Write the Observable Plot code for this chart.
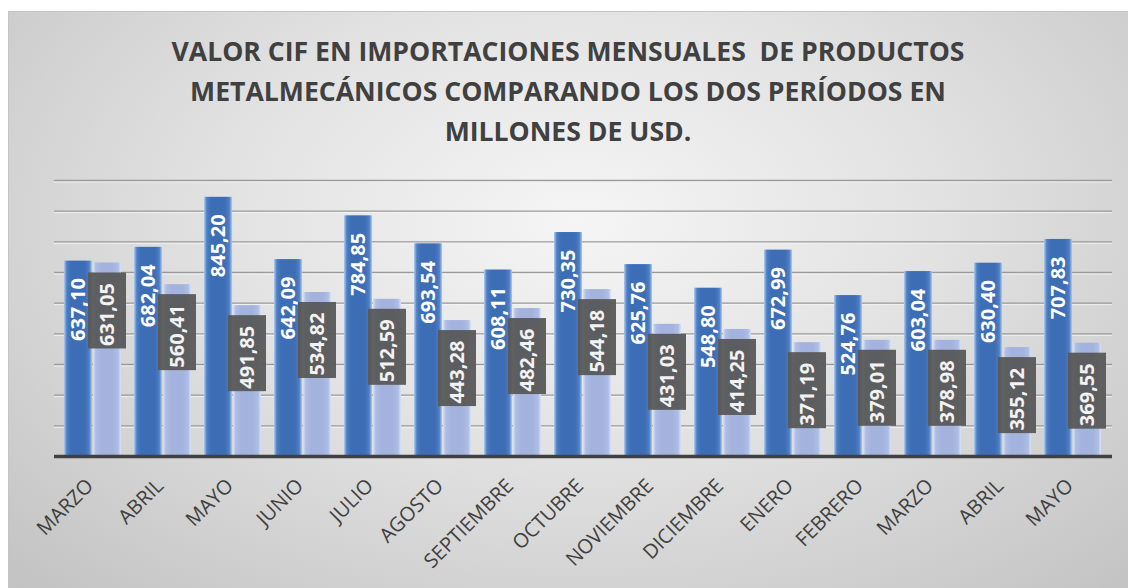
<!DOCTYPE html>
<html>
<head>
<meta charset="utf-8">
<script src="https://cdn.jsdelivr.net/npm/d3@7"></script>
<script src="https://cdn.jsdelivr.net/npm/@observablehq/plot@0.6"></script>
<style>
  html, body { margin: 0; padding: 0; width: 1128px; height: 588px; overflow: hidden; background: #ffffff; }
  #frame { position: absolute; left: 8px; top: 11px; width: 1140px; height: 600px;
    border: 1px solid #c4c4c4; box-sizing: border-box;
    background: radial-gradient(ellipse 70% 85% at 50% 35%, #f5f5f5 0%, #e2e2e2 45%, #c3c3c3 100%); }
  #title { position: absolute; left: 8px; width: 1120px; top: 31px; text-align: center;
    font-family: "Open Sans", sans-serif; font-weight: 700; font-size: 26.6px; line-height: 40px; color: #404040; white-space: pre; }
  #chart { position: absolute; left: 0; top: 150px; }
</style>
</head>
<body>
<div id="frame"></div>
<div id="title">VALOR CIF EN IMPORTACIONES MENSUALES  DE PRODUCTOS<br>METALMECÁNICOS COMPARANDO LOS DOS PERÍODOS EN<br>MILLONES DE USD.</div>
<div id="chart"></div>
<script>
const months = ["MARZO","ABRIL","MAYO","JUNIO","JULIO","AGOSTO","SEPTIEMBRE","OCTUBRE","NOVIEMBRE","DICIEMBRE","ENERO","FEBRERO","MARZO","ABRIL","MAYO"];
const period1 = [637.10, 682.04, 845.20, 642.09, 784.85, 693.54, 608.11, 730.35, 625.76, 548.80, 672.99, 524.76, 603.04, 630.40, 707.83];
const period2 = [631.05, 560.41, 491.85, 534.82, 512.59, 443.28, 482.46, 544.18, 431.03, 414.25, 371.19, 379.01, 378.98, 355.12, 369.55];
const yTicks = [100, 200, 300, 400, 500, 600, 700, 800, 900];
const yMax = 900;

const rows1 = months.map((m, i) => ({i, v: period1[i]}));
const rows2 = months.map((m, i) => ({i, v: period2[i]}));
const fmt = v => d3.format(".2f")(v).replace(".", ",");

const W = 1128, H = 438, mt = 30, mb = 132, ml = 54, mr = 16;
const pIn = 0.18, pOut = 0.09;
const step = (W - ml - mr) / (months.length - pIn + 2 * pOut);
const bw = step * (1 - pIn);
const half = bw / 2;
const pxPerUnit = (H - mt - mb) / yMax;

const font = "'Open Sans', sans-serif";

const chart = Plot.plot({
  width: W, height: H,
  marginTop: mt, marginBottom: mb, marginLeft: ml, marginRight: mr,
  style: {fontFamily: font, fontSize: "18px", color: "#404040", background: "transparent", overflow: "visible"},
  x: {domain: d3.range(months.length), paddingInner: pIn, paddingOuter: pOut},
  y: {domain: [0, yMax], axis: null},
  marks: [
    Plot.ruleY(yTicks, {stroke: "#9a9a9a", strokeWidth: 1.3}),
    Plot.ruleY(yTicks, {stroke: "#f6f6f6", strokeWidth: 1, dy: 1.5, strokeOpacity: 0.8}),
    Plot.barY(rows1, {x: "i", y: "v", insetRight: half, fill: "url(#gDark)"}),
    Plot.barY(rows2, {x: "i", y: "v", insetLeft: half, fill: "url(#gLight)"}),
    Plot.ruleY([0], {stroke: "#404040", strokeWidth: 3.5}),
    Plot.axisX({tickFormat: i => months[i], tickRotate: -45, tickSize: 0, tickPadding: 26, dx: -3,
      label: null, fontSize: 20, fontFamily: font, fill: "#404040"}),
    Plot.text(rows1, {x: "i", y: "v", text: d => fmt(d.v), rotate: -90, textAnchor: "end",
      dx: -half / 2, dy: 17, fill: "#ffffff", fontSize: 20, fontWeight: "bold", fontFamily: font}),
    Plot.barY(rows2, {x: "i", y1: d => d.v - 86 / pxPerUnit, y2: d => d.v - 10 / pxPerUnit,
      insetLeft: half - 5, insetRight: -5, fill: "#585858", fillOpacity: 0.95}),
    Plot.text(rows2, {x: "i", y: "v", text: d => fmt(d.v), rotate: -90, textAnchor: "start",
      dx: half / 2, dy: 83, fill: "#f2f2f2", fontSize: 20, fontWeight: "bold", fontFamily: font})
  ]
});

const svg = d3.select(chart);
const defs = svg.insert("defs", ":first-child");
const g1 = defs.append("linearGradient").attr("id", "gDark").attr("x1", 0).attr("x2", 1).attr("y1", 0).attr("y2", 0);
[[0, "#b3cdec"], [0.1, "#4f80c6"], [0.25, "#3d6db4"], [0.75, "#3d6db4"], [0.9, "#4f80c6"], [1, "#b3cdec"]]
  .forEach(([o, c]) => g1.append("stop").attr("offset", o).attr("stop-color", c));
const g2 = defs.append("linearGradient").attr("id", "gLight").attr("x1", 0).attr("x2", 1).attr("y1", 0).attr("y2", 0);
[[0, "#dbe4f5"], [0.1, "#aebde4"], [0.3, "#a4b3de"], [0.7, "#a4b3de"], [0.9, "#aebde4"], [1, "#dbe4f5"]]
  .forEach(([o, c]) => g2.append("stop").attr("offset", o).attr("stop-color", c));

document.getElementById("chart").appendChild(chart);
</script>
</body>
</html>
